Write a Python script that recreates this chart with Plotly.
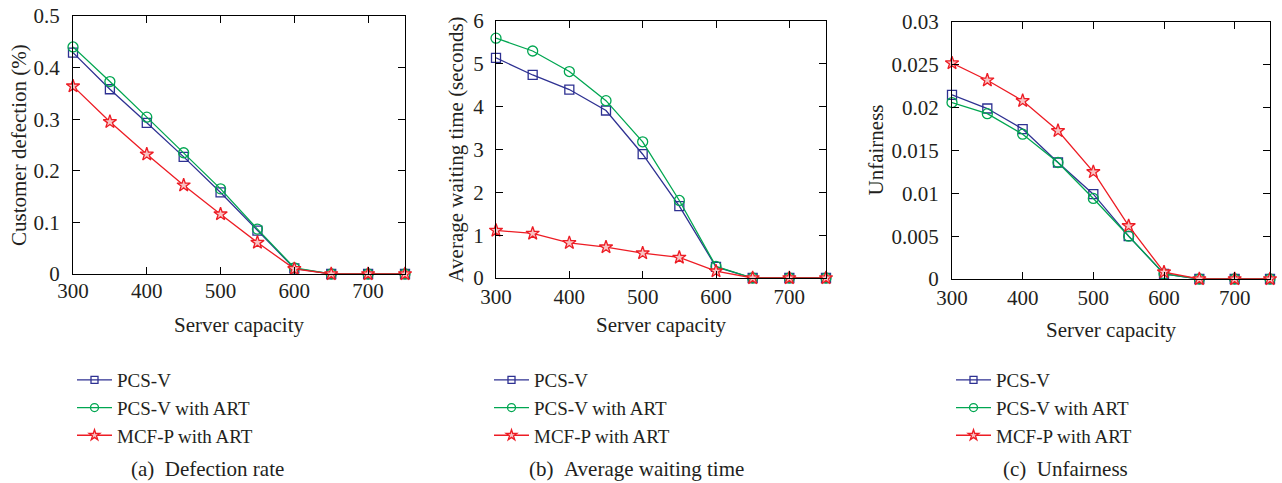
import plotly.graph_objects as go

capacity = [300, 350, 400, 450, 500, 550, 600, 650, 700, 750]

# (a) Customer defection (%)
defect_pcsv = [0.429, 0.358, 0.293, 0.227, 0.158, 0.084, 0.011, 0.0, 0.0, 0.0]
defect_pcsv_art = [0.440, 0.373, 0.304, 0.235, 0.165, 0.087, 0.012, 0.0, 0.0, 0.0]
defect_mcfp_art = [0.364, 0.295, 0.232, 0.172, 0.116, 0.061, 0.010, 0.0, 0.0, 0.0]

# (b) Average waiting time (seconds)
wait_pcsv = [5.14, 4.74, 4.40, 3.91, 2.89, 1.68, 0.26, 0.0, 0.0, 0.0]
wait_pcsv_art = [5.60, 5.30, 4.82, 4.14, 3.18, 1.81, 0.27, 0.0, 0.0, 0.0]
wait_mcfp_art = [1.11, 1.04, 0.82, 0.72, 0.58, 0.48, 0.16, 0.0, 0.0, 0.0]

# (c) Unfairness
unfair_pcsv = [0.0215, 0.0199, 0.0175, 0.0136, 0.0099, 0.0050, 0.0006, 0.0, 0.0, 0.0]
unfair_pcsv_art = [0.0206, 0.0193, 0.0169, 0.0136, 0.0094, 0.0050, 0.0006, 0.0, 0.0, 0.0]
unfair_mcfp_art = [0.0252, 0.0232, 0.0208, 0.0173, 0.0125, 0.0062, 0.0008, 0.0, 0.0, 0.0]

series_names = ["PCS-V", "PCS-V with ART", "MCF-P with ART"]
x_ticks = [300, 400, 500, 600, 700]
y_ticks_a = [0, 0.1, 0.2, 0.3, 0.4, 0.5]
y_ticks_b = [0, 1, 2, 3, 4, 5, 6]
y_ticks_c = [0, 0.005, 0.01, 0.015, 0.02, 0.025, 0.03]
y_ticktext_c = ["0", "0.005", "0.01", "0.015", "0.02", "0.025", "0.03"]

W, H = 1282, 483
FONT = "Liberation Serif"
FS = 21
LFS = 19
TXT = "#231f20"
BLUE = "#2e3192"
GREEN = "#00a651"
RED = "#ed1c24"

def px(x):
    return x / W

def py(y):
    return 1 - y / H

styles = [
    dict(color=BLUE, symbol="square-open", size=9, lsize=7, fill=BLUE),
    dict(color=GREEN, symbol="circle-open", size=10, lsize=8, fill=GREEN),
    dict(color=RED, symbol="star", size=10, lsize=8, fill="#f8c4c4"),
]

fig = go.Figure()

panels = [
    dict(data=[defect_pcsv, defect_pcsv_art, defect_mcfp_art], xa="x", ya="y", lg="legend"),
    dict(data=[wait_pcsv, wait_pcsv_art, wait_mcfp_art], xa="x2", ya="y2", lg="legend2"),
    dict(data=[unfair_pcsv, unfair_pcsv_art, unfair_mcfp_art], xa="x3", ya="y3", lg="legend3"),
]

for p in panels:
    for name, vals, st in zip(series_names, p["data"], styles):
        fig.add_trace(go.Scatter(
            x=capacity, y=vals, name=name, mode="lines+markers",
            xaxis=p["xa"], yaxis=p["ya"], showlegend=False,
            line=dict(color=st["color"], width=1.3),
            marker=dict(symbol=st["symbol"], size=st["size"], color=st["fill"],
                        line=dict(color=st["color"], width=1.3)),
            cliponaxis=False,
        ))
    # legend entries (no data, smaller legend symbols)
    for name, st in zip(series_names, styles):
        fig.add_trace(go.Scatter(
            x=[None], y=[None], name=name, mode="lines+markers",
            xaxis=p["xa"], yaxis=p["ya"], legend=p["lg"], showlegend=True,
            line=dict(color=st["color"], width=1.3),
            marker=dict(symbol=st["symbol"], size=st["lsize"], color=st["fill"],
                        line=dict(color=st["color"], width=1.3)),
        ))

# pixel boxes of the three plot areas: (left, right, top, bottom)
boxes = [(73, 405, 16, 274), (496, 826, 21, 278), (952, 1270, 22, 279)]
yranges = [[0, 0.5], [0, 6], [0, 0.03]]
yticks = [(y_ticks_a, ["0", "0.1", "0.2", "0.3", "0.4", "0.5"]),
          (y_ticks_b, [str(v) for v in y_ticks_b]),
          (y_ticks_c, y_ticktext_c)]
x_standoff = [-2, 0, 0]
y_standoff = [8, 7, 8]

axis_common = dict(
    showline=True, linecolor="#000000", linewidth=1.3, mirror="ticks",
    ticks="inside", ticklen=7, tickwidth=1.2, tickcolor="#000000",
    showgrid=False, zeroline=False, automargin=False,
    tickfont=dict(family=FONT, size=FS, color=TXT),
)

layout = dict(
    template="none",
    width=W, height=H, margin=dict(l=0, r=0, t=0, b=0, autoexpand=False),
    paper_bgcolor="white", plot_bgcolor="white",
    font=dict(family=FONT, size=FS, color=TXT),
    showlegend=True,
)

for i, ((l, r, t, b), yr, (tv, tt), xs, ys) in enumerate(
        zip(boxes, yranges, yticks, x_standoff, y_standoff)):
    sx = "" if i == 0 else str(i + 1)
    layout["xaxis" + sx] = dict(
        domain=[px(l), px(r)], range=[300, 750], anchor="y" + sx,
        tickvals=x_ticks, ticktext=[str(v) for v in x_ticks],
        ticklabelstandoff=xs, **axis_common)
    layout["yaxis" + sx] = dict(
        domain=[py(b), py(t)], range=yr, anchor="x" + sx,
        tickvals=tv, ticktext=tt, ticklabelstandoff=ys, **axis_common)

legend_pos = [(72, 361), (489, 361), (951, 361)]
for i, (lx, ly) in enumerate(legend_pos):
    key = "legend" if i == 0 else "legend" + str(i + 1)
    layout[key] = dict(
        x=px(lx), y=py(ly), xanchor="left", yanchor="top",
        font=dict(family=FONT, size=LFS, color=TXT),
        bgcolor="rgba(0,0,0,0)", borderwidth=0, tracegroupgap=0,
        itemwidth=35,
    )

fig.update_layout(**layout)

annotations = []
# x axis titles
for (l, r, t, b), yc in zip(boxes, [325, 325, 330]):
    annotations.append(dict(text="Server capacity", x=px((l + r) / 2), y=py(yc),
                            xref="paper", yref="paper", showarrow=False,
                            xanchor="center", yanchor="middle",
                            font=dict(family=FONT, size=FS, color=TXT)))
# y axis titles
ytitles = ["Customer defection (%)", "Average waiting time (seconds)", "Unfairness"]
for (l, r, t, b), xc, txt in zip(boxes, [19, 455, 875], ytitles):
    annotations.append(dict(text=txt, x=px(xc), y=py((t + b) / 2),
                            xref="paper", yref="paper", showarrow=False,
                            textangle=-90, xanchor="center", yanchor="middle",
                            font=dict(family=FONT, size=FS, color=TXT)))
# captions
captions = ["(a)  Defection rate", "(b)  Average waiting time", "(c)  Unfairness"]
for xc, txt in zip([207, 636, 1065], captions):
    annotations.append(dict(text=txt.replace("  ", "&nbsp;&nbsp;"), x=px(xc), y=py(469),
                            xref="paper", yref="paper", showarrow=False,
                            xanchor="center", yanchor="middle",
                            font=dict(family=FONT, size=FS, color=TXT)))

fig.update_layout(annotations=annotations)

fig.write_html("out.html")
